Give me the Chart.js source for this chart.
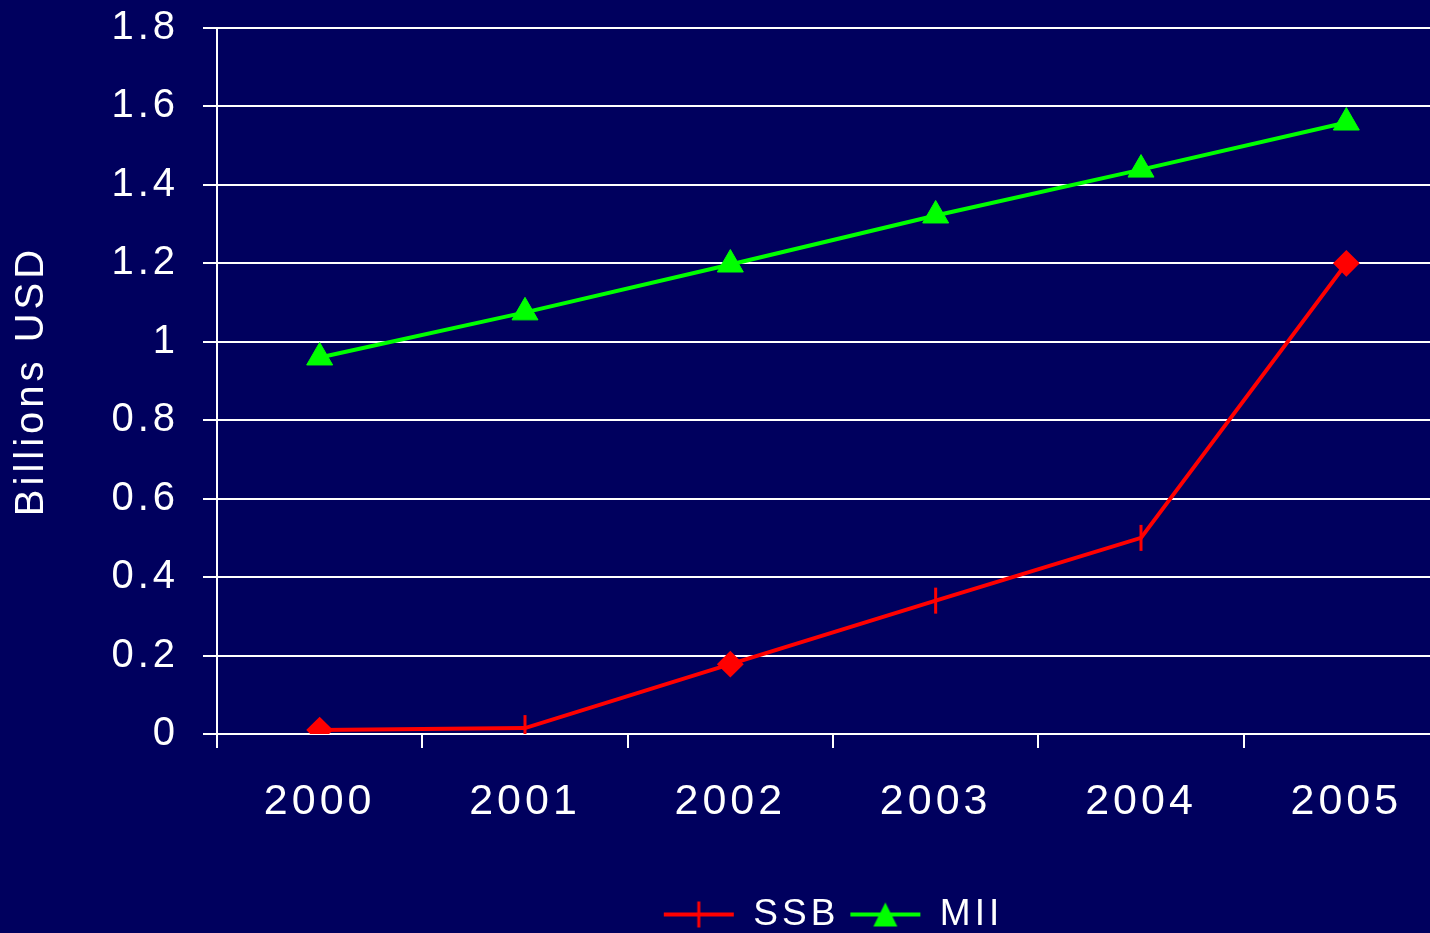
<!DOCTYPE html>
<html lang="en">
<head>
  <meta charset="UTF-8">
  <title>SSB vs MII</title>
  <script src="https://cdn.jsdelivr.net/npm/chart.js"></script>
  <style>
    html, body { margin: 0; padding: 0; overflow: hidden; background: #00005e; }
    .wrap { width: 1465px; height: 963px; margin-top: -20px; position: relative; }
  </style>
</head>
<body>
  <div class="wrap"><canvas id="chart"></canvas></div>
  <script>
    const years = ['2000', '2001', '2002', '2003', '2004', '2005'];
    const ssb = [0.01, 0.015, 0.178, 0.34, 0.50, 1.20];
    const mii = [0.96, 1.075, 1.197, 1.322, 1.439, 1.559];
    const yTicks = [0, 0.2, 0.4, 0.6, 0.8, 1, 1.2, 1.4, 1.6, 1.8];

    const FONT = 'Liberation Sans, Arial, sans-serif';
    const RED = '#ff0000';
    const GREEN = '#00ff00';

    // legend icons: line with the marker in the middle
    function legendIcon(color, kind) {
      const c = document.createElement('canvas');
      c.width = 72; c.height = 30;
      const g = c.getContext('2d');
      g.strokeStyle = color; g.fillStyle = color; g.lineWidth = 4;
      g.beginPath(); g.moveTo(1, 15); g.lineTo(71, 15); g.stroke();
      if (kind === 'tick') {
        g.lineWidth = 3;
        g.beginPath(); g.moveTo(36, 2); g.lineTo(36, 28); g.stroke();
      } else {
        g.beginPath(); g.moveTo(36, 3); g.lineTo(48, 27); g.lineTo(24, 27); g.closePath(); g.fill();
      }
      return c;
    }
    const icons = [legendIcon(RED, 'tick'), legendIcon(GREEN, 'tri')];

    const tweaks = {
      id: 'tweaks',
      beforeLayout(chart) { chart.ctx.letterSpacing = '4px'; },
      beforeDraw(chart) { chart.ctx.letterSpacing = '4px'; },
      afterLayout(chart) {
        // centre the legend under the plot area, not the canvas
        chart.legend.left = chart.chartArea.left;
        chart.legend.right = chart.chartArea.right;
      }
    };

    new Chart(document.getElementById('chart'), {
      type: 'line',
      data: {
        labels: years,
        datasets: [{
          label: 'SSB',
          data: ssb,
          borderColor: RED,
          backgroundColor: RED,
          borderWidth: 4,
          pointStyle: ['rectRot', 'line', 'rectRot', 'line', 'line', 'rectRot'],
          pointRotation: [0, 90, 0, 90, 90, 0],
          pointRadius: [12, 13, 12, 13, 13, 12],
          pointBorderWidth: [2, 3, 2, 3, 3, 2],
          pointBorderColor: RED,
          pointBackgroundColor: RED,
          tension: 0
        }, {
          label: 'MII',
          data: mii,
          borderColor: GREEN,
          backgroundColor: GREEN,
          borderWidth: 4,
          pointStyle: 'triangle',
          pointRadius: 15,
          pointBorderWidth: 1,
          pointBorderColor: GREEN,
          pointBackgroundColor: GREEN,
          tension: 0
        }]
      },
      options: {
        responsive: true,
        maintainAspectRatio: false,
        animation: false,
        layout: { padding: 0 },
        plugins: {
          tooltip: { enabled: false },
          legend: {
            position: 'bottom',
            labels: {
              color: '#ffffff',
              font: { family: FONT, size: 37 },
              usePointStyle: true,
              pointStyleWidth: 72,
              padding: 10,
              generateLabels(chart) {
                const items = Chart.defaults.plugins.legend.labels.generateLabels(chart);
                items.forEach((it, i) => { it.pointStyle = icons[i]; });
                return items;
              }
            }
          }
        },
        scales: {
          x: {
            offset: true,
            grid: {
              offset: true,
              drawOnChartArea: false,
              drawTicks: true,
              tickLength: 14,
              color: '#ffffff',
              lineWidth: 2
            },
            border: { color: '#ffffff', width: 2 },
            ticks: {
              color: '#ffffff',
              font: { family: FONT, size: 43 },
              padding: 28,
              maxRotation: 0
            },
            afterFit(scale) { scale.height = 152; }
          },
          y: {
            min: 0,
            max: 1.8,
            afterBuildTicks(scale) { scale.ticks = yTicks.map(v => ({ value: v })); },
            grid: {
              color: '#ffffff',
              lineWidth: 2,
              tickLength: 14
            },
            border: { color: '#ffffff', width: 2 },
            ticks: {
              color: '#ffffff',
              font: { family: FONT, size: 40 },
              padding: 24,
              callback: v => String(v)
            },
            title: {
              display: true,
              text: 'Billions USD',
              color: '#ffffff',
              font: { family: FONT, size: 40 },
              padding: { top: 8, bottom: 0 }
            },
            afterFit(scale) { scale.width = 217; }
          }
        }
      },
      plugins: [tweaks]
    });
  </script>
</body>
</html>
